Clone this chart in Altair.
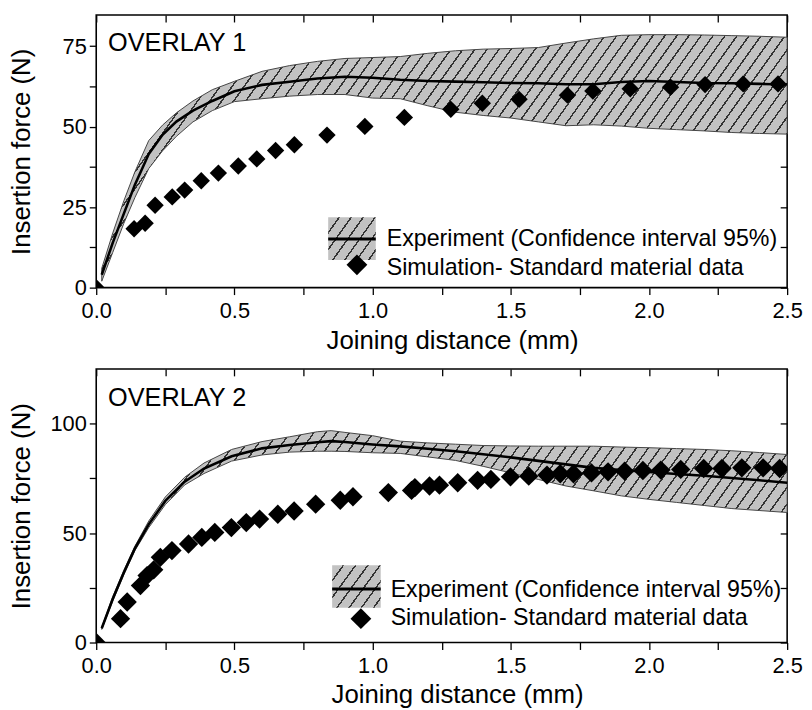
import altair as alt
import pandas as pd

FONT = "Liberation Sans"

# ---------------- OVERLAY 1 ----------------
exp1_x = [0.02, 0.06, 0.10, 0.14, 0.19, 0.24, 0.29, 0.35, 0.42, 0.50, 0.60, 0.70, 0.80, 0.90, 1.00,
          1.10, 1.20, 1.30, 1.40, 1.50, 1.60, 1.70, 1.80, 1.90, 2.00, 2.10, 2.20, 2.30, 2.40, 2.50]
exp1_mean = [4, 14, 23, 32, 41.5, 47.5, 51.6, 55, 58, 61, 63, 64, 65, 65.5, 65.2,
             64.6, 64.2, 64.0, 63.8, 63.6, 63.5, 63.2, 63.2, 63.9, 64.2, 63.9, 63.6, 63.5, 63.3, 63.1]
exp1_upper = [6, 17, 27, 36, 45.7, 50.5, 54.3, 58, 61.5, 64.1, 67.2, 69, 70.3, 71.2, 71.5,
              71.8, 72.8, 73.6, 74.1, 74.3, 74.6, 76, 77.3, 78.4, 78.6, 78.6, 78.5, 78.3, 78.1, 77.8]
exp1_lower = [2, 11, 20, 28, 37, 42.5, 47, 51.5, 55, 57.8, 58.7, 59.5, 60, 60, 58.9,
              58.7, 56.5, 54.5, 53.5, 52.7, 51.5, 50.3, 50.6, 50.2, 49.5, 49.1, 48.7, 48.2, 47.9, 47.7]
sim1_x = [0, 0.137, 0.177, 0.213, 0.275, 0.320, 0.380, 0.442, 0.514, 0.581, 0.649, 0.717, 0.835,
          0.972, 1.115, 1.283, 1.397, 1.530, 1.705, 1.797, 1.932, 2.078, 2.203, 2.341, 2.467]
sim1_y = [0, 18.3, 20.0, 25.6, 28.2, 30.3, 33.2, 35.6, 37.8, 40.0, 42.6, 44.4, 47.4,
          50.1, 52.9, 55.4, 57.3, 58.5, 59.8, 61.1, 61.8, 62.3, 63.1, 63.3, 63.3]

# ---------------- OVERLAY 2 ----------------
exp2_x = [0.02, 0.06, 0.10, 0.14, 0.19, 0.25, 0.32, 0.39, 0.49, 0.60, 0.70, 0.80, 0.85, 0.90, 1.00,
          1.10, 1.20, 1.30, 1.40, 1.50, 1.60, 1.70, 1.80, 1.90, 2.00, 2.10, 2.20, 2.30, 2.40, 2.50]
exp2_mean = [6.5, 20, 32, 43, 54, 64.7, 73.5, 79.5, 85.1, 88.7, 90.2, 91.5, 92, 91.6, 90.5,
             89.6, 88.5, 87.4, 86, 84.6, 83, 81.4, 79.8, 78.8, 77.9, 77, 76.2, 75.2, 74.1, 73]
exp2_upper = [7, 21, 33, 44, 55.5, 66.5, 75.5, 82, 88.2, 91.8, 94, 96.3, 96.8, 96, 94.5,
              92, 91.2, 90.6, 90, 89.8, 89.7, 89.7, 89.7, 89.3, 89, 88.6, 88.2, 87.6, 86.8, 85.9]
exp2_lower = [6, 19, 31, 42, 52.5, 63, 72, 77.2, 82.9, 85.7, 87, 87.4, 87.4, 87.3, 86.7,
              86.4, 84.8, 83.2, 80.5, 77.5, 74.5, 71.5, 69.3, 67, 65.4, 64, 62.6, 61.2, 60.3, 59.4]
sim2_x = [0, 0.088, 0.112, 0.160, 0.184, 0.208, 0.232, 0.274, 0.334, 0.382, 0.429, 0.489, 0.543,
          0.591, 0.657, 0.716, 0.794, 0.883, 0.929, 1.057, 1.141, 1.153, 1.206, 1.242, 1.308,
          1.380, 1.428, 1.499, 1.565, 1.631, 1.679, 1.727, 1.792, 1.852, 1.912, 1.978, 2.043,
          2.115, 2.198, 2.264, 2.336, 2.413, 2.473]
sim2_y = [0, 10.9, 18.5, 26.0, 30.6, 33.2, 38.9, 42.0, 45.0, 48.0, 50.3, 52.5, 54.8,
          56.4, 58.6, 60.1, 63.2, 65.0, 66.6, 68.5, 69.5, 70.8, 71.5, 71.9, 73.0,
          74.1, 74.5, 75.7, 76.0, 76.5, 77.1, 77.1, 77.5, 78.0, 78.3, 78.6, 78.8,
          79.1, 79.5, 79.5, 79.8, 79.8, 79.5]

x_ticks = [0, 0.25, 0.5, 0.75, 1.0, 1.25, 1.5, 1.75, 2.0, 2.25, 2.5]
y1_ticks = [0, 12.5, 25, 37.5, 50, 62.5, 75]
y2_ticks = [0, 25, 50, 75, 100]

LEG_EXP = "Experiment (Confidence interval 95%)"
LEG_SIM = "Simulation- Standard material data"

W = 697


def hatch(n, ratio, k=1.25, lw=0.15, bg="#c2c2c2", fg="#333333"):
    stops = []
    p = 1.0 / n
    for i in range(n):
        a = round(i * p, 6)
        b = round(i * p + p * (1 - lw), 6)
        c = min(1.0, round((i + 1) * p, 6))
        stops += [alt.GradientStop(offset=a, color=bg), alt.GradientStop(offset=b, color=bg),
                  alt.GradientStop(offset=b, color=fg), alt.GradientStop(offset=c, color=fg)]
    return alt.LinearGradient(gradient="linear", stops=stops, x1=0, y1=0, x2=k, y2=k * ratio)


def panel(ex, em, eu, el, sx, sy, ymax, yticks, ylab_step, h, label, lab_xy,
          band_n, band_ratio, leg, dsize, lsize, xtitle_x):
    xs = alt.Scale(domain=[0, 2.5], nice=False, zero=False)
    ys = alt.Scale(domain=[0, ymax], nice=False, zero=False)
    exp = pd.DataFrame({"x": ex, "mean": em, "upper": eu, "lower": el})
    sim = pd.DataFrame({"x": sx, "y": sy})

    x_axis = alt.Axis(values=x_ticks, labelExpr="datum.value % 0.5 == 0 ? format(datum.value, '.1f') : ''",
                      title="Joining distance (mm)", tickSize=7, tickWidth=1.3, tickColor="black",
                      labelPadding=6, titlePadding=6, titleX=xtitle_x, labelFontSize=22, titleFontSize=26,
                      labelFont=FONT, titleFont=FONT, labelColor="black", titleColor="black",
                      titleFontWeight="normal", domain=False, grid=False, labelFlush=False,
                      labelOverlap=False)
    y_axis = alt.Axis(values=yticks,
                      labelExpr=f"datum.value % {ylab_step} == 0 ? format(datum.value, 'd') : ''",
                      title="Insertion force (N)", tickSize=7, tickWidth=1.3, tickColor="black",
                      labelPadding=3, titleX=-62, labelFontSize=22, titleFontSize=26,
                      labelFont=FONT, titleFont=FONT, labelColor="black", titleColor="black",
                      titleFontWeight="normal", domain=False, grid=False, labelFlush=False,
                      labelOverlap=False)
    x_top = alt.Axis(orient="top", values=x_ticks, labels=False, title=None, tickSize=7, tickWidth=1.3,
                     tickColor="black", offset=-7, domain=False, grid=False)
    y_right = alt.Axis(orient="right", values=yticks, labels=False, title=None, tickSize=7, tickWidth=1.3,
                       tickColor="black", offset=-7, domain=False, grid=False)

    band = alt.Chart(exp).mark_area(fill=hatch(band_n, band_ratio), stroke="#454545",
                                    strokeWidth=1).encode(
        x=alt.X("x:Q", scale=xs, axis=x_axis),
        y=alt.Y("lower:Q", scale=ys, axis=y_axis),
        y2="upper:Q",
    )
    line = alt.Chart(exp).mark_line(color="black", strokeWidth=2.6).encode(
        x=alt.X("x:Q", scale=xs, axis=x_top),
        y=alt.Y("mean:Q", scale=ys, axis=y_right),
    )
    pts = alt.Chart(sim).mark_point(shape="diamond", filled=True, color="black", opacity=1,
                                    size=dsize, clip=True).encode(
        x=alt.X("x:Q", scale=xs, axis=None),
        y=alt.Y("y:Q", scale=ys, axis=None),
    )
    title_txt = alt.Chart().mark_text(align="left", baseline="alphabetic", fontSize=25.5, font=FONT,
                                      color="black").encode(
        x=alt.value(lab_xy[0]), y=alt.value(lab_xy[1]), text=alt.value(label))

    bx0, bx1, by0, by1, ly, dx, dy, tx, t1, t2 = leg
    leg_box = alt.Chart().mark_rect(fill=hatch(7, 0.64), strokeWidth=0).encode(
        x=alt.value(bx0), x2=alt.value(bx1), y=alt.value(by0), y2=alt.value(by1))
    leg_line = alt.Chart().mark_rule(color="black", strokeWidth=3).encode(
        x=alt.value(bx0), x2=alt.value(bx1), y=alt.value(ly))
    leg_pt = alt.Chart().mark_point(shape="diamond", filled=True, color="black", opacity=1,
                                    size=lsize).encode(x=alt.value(dx), y=alt.value(dy))
    leg_t1 = alt.Chart().mark_text(align="left", baseline="alphabetic", fontSize=23.4, font=FONT,
                                   color="black").encode(
        x=alt.value(tx), y=alt.value(t1), text=alt.value(LEG_EXP))
    leg_t2 = alt.Chart().mark_text(align="left", baseline="alphabetic", fontSize=23.4, font=FONT,
                                   color="black").encode(
        x=alt.value(tx), y=alt.value(t2), text=alt.value(LEG_SIM))

    return alt.layer(band, line, pts, title_txt, leg_box, leg_line, leg_pt, leg_t1, leg_t2).resolve_axis(
        x="independent", y="independent").properties(width=W, height=h)


top = panel(exp1_x, exp1_mean, exp1_upper, exp1_lower, sim1_x, sim1_y, 84.7, y1_ticks, 25, 275,
            "OVERLAY 1", (12, 36), 76, 0.257,
            (234, 282, 204, 247, 226, 263, 252, 293, 233, 262), 306, 440, 359)
bottom = panel(exp2_x, exp2_mean, exp2_upper, exp2_lower, sim2_x, sim2_y, 125, y2_ticks, 50, 276,
               "OVERLAY 2", (12, 37), 75, 0.207,
               (238, 287, 198, 241, 222, 267, 252, 297, 230, 258), 380, 440, 364)

chart = alt.vconcat(top, bottom, spacing=13).resolve_scale(y="independent").properties(
    padding={"left": 0, "top": 2, "right": 0, "bottom": 0}
).configure_view(stroke="black", strokeWidth=1.6)

chart.save("out.html", embed_options={"renderer": "svg", "actions": False})
